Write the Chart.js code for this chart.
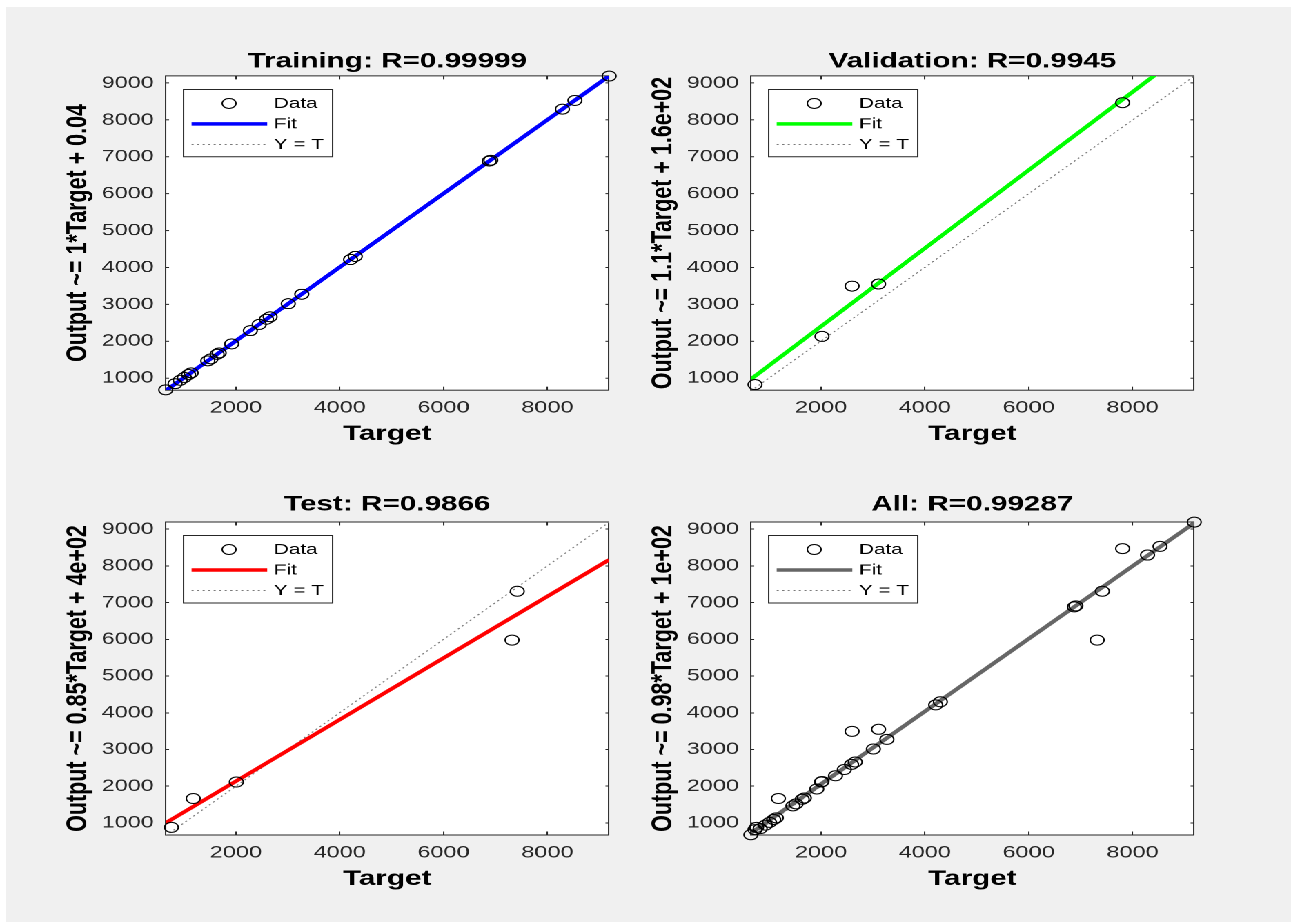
<!DOCTYPE html>
<html>
<head>
<meta charset="utf-8">
<title>Regression plots</title>
<script src="https://cdn.jsdelivr.net/npm/chart.js@4.4.1/dist/chart.umd.min.js"></script>
<style>
  html, body { margin: 0; padding: 0; background: #ffffff; }
  body { width: 1291px; height: 922px; overflow: hidden; position: relative; }
  /* figure background (grey like the MATLAB window) */
  #figure-bg { position: absolute; left: 6px; top: 7px; right: 0; bottom: 0; background: #f0f0f0; }
  /* the original picture is stretched sideways, so the whole stage is too */
  #stage { position: absolute; left: 0; top: 0; width: 935.5px; height: 922px;
           transform: scaleX(1.38); transform-origin: 0 0; }
  .panel { position: absolute; }
</style>
</head>
<body>
<div id="figure-bg"></div>
<div id="stage">
  <div class="panel" id="box-train"><canvas id="c-train"></canvas></div>
  <div class="panel" id="box-val"><canvas id="c-val"></canvas></div>
  <div class="panel" id="box-test"><canvas id="c-test"></canvas></div>
  <div class="panel" id="box-all"><canvas id="c-all"></canvas></div>
</div>
<script>
// ===== Data =====
const xTicks = [2000, 4000, 6000, 8000];
const yTicks = [1000, 2000, 3000, 4000, 5000, 6000, 7000, 8000, 9000];
const xLimits = [648, 9185];
const yLimits = [672, 9195];

// Training set
const trainTarget = [650, 830, 930, 1010, 1090, 1140, 1460, 1520, 1640, 1680, 1920, 2280,
                     2450, 2590, 2660, 3010, 3270, 4210, 4300, 6880, 6910, 8290, 8530, 9190];
const trainOutput = [680, 845, 940, 1015, 1095, 1140, 1465, 1520, 1645, 1680, 1925, 2285,
                     2455, 2595, 2660, 3015, 3275, 4215, 4300, 6885, 6910, 8295, 8530, 9192];
// Validation set
const valTarget = [730, 2020, 2600, 3110, 7810];
const valOutput = [820, 2130, 3495, 3550, 8470];
// Test set
const testTarget = [760, 1180, 2010, 7320, 7420];
const testOutput = [880, 1665, 2115, 5980, 7310];
// All = the three sets together
const allTarget = trainTarget.concat(valTarget, testTarget);
const allOutput = trainOutput.concat(valOutput, testOutput);

// Fit lines: ends read at the left and right axis limits
const fitEndsX = [648, 9185];
const trainFitY = [655, 9190];
const valFitY = [965, 10015];
const testFitY = [1000, 8165];
const allFitY = [720, 9165];
const identityY = [648, 9185];   // Y = T

const FONT = '"Liberation Sans", Arial, Helvetica, sans-serif';

const toPoints = (xs, ys) => xs.map((x, i) => ({ x: x, y: ys[i] }));

// ===== Plugins =====
// white plot area
const plotBackground = {
    id: 'plotBackground',
    beforeDraw(chart) {
        const { ctx, chartArea: a } = chart;
        ctx.save();
        ctx.fillStyle = '#ffffff';
        ctx.fillRect(a.left, a.top, a.right - a.left, a.bottom - a.top);
        ctx.restore();
    }
};

// MATLAB style legend box in the upper left of the axes
const boxLegend = {
    id: 'boxLegend',
    afterDatasetsDraw(chart) {
        const { ctx, chartArea: a } = chart;
        const ds = chart.data.datasets;
        const x = a.left + 13, y = a.top + 13.5, w = 108, h = 67.5;
        const rows = [y + 14, y + 34.5, y + 55];
        ctx.save();
        ctx.fillStyle = '#ffffff';
        ctx.fillRect(x, y, w, h);
        ctx.strokeStyle = '#262626';
        ctx.lineWidth = 1;
        ctx.strokeRect(x, y, w, h);

        // Data: open circle
        ctx.beginPath();
        ctx.arc(x + 33, rows[0], ds[0].pointRadius, 0, Math.PI * 2);
        ctx.strokeStyle = ds[0].pointBorderColor;
        ctx.lineWidth = ds[0].pointBorderWidth;
        ctx.stroke();

        // Fit and Y = T: line samples
        [1, 2].forEach(i => {
            ctx.beginPath();
            ctx.setLineDash(ds[i].borderDash || []);
            ctx.moveTo(x + 5.8, rows[i]);
            ctx.lineTo(x + 60.6, rows[i]);
            ctx.strokeStyle = ds[i].borderColor;
            ctx.lineWidth = ds[i].borderWidth;
            ctx.stroke();
        });
        ctx.setLineDash([]);

        ctx.fillStyle = '#000000';
        ctx.font = '15px ' + FONT;
        ctx.textBaseline = 'middle';
        ctx.textAlign = 'left';
        ds.forEach((d, i) => ctx.fillText(d.label, x + 65.4, rows[i] + 0.5));
        ctx.restore();
    }
};

// ===== One regression panel =====
const makePanel = (cfg) => {
    const r = cfg.rect;
    const box = document.getElementById(cfg.box);
    box.style.left = (r.x - 100) + 'px';
    box.style.top = (r.y - 56) + 'px';
    box.style.width = (r.w + 119) + 'px';
    box.style.height = (r.h + 126) + 'px';

    const titleMid = 56 - cfg.titleGap;
    const titlePadTop = titleMid - 12.9;
    const titlePadBottom = 56 - titlePadTop - 25.8;

    const setTicks = (list) => (scale) => { scale.ticks = list.map(v => ({ value: v })); };
    const plainNumber = (v) => String(v);   // 9000, not 9,000
    const tickFont = { family: FONT, size: 17 };
    const labelFont = { family: FONT, size: 21.5, weight: 'bold' };
    const border = { display: true, color: '#262626', width: 1 };

    return new Chart(document.getElementById(cfg.canvas), {
        type: 'scatter',
        data: {
            datasets: [
                {
                    label: 'Data',
                    data: toPoints(cfg.target, cfg.output),
                    pointStyle: 'circle',
                    pointRadius: 5,
                    pointBorderWidth: 1,
                    pointBorderColor: '#000000',
                    pointBackgroundColor: 'rgba(0,0,0,0)',
                    showLine: false,
                    clip: false,
                    order: 0
                },
                {
                    label: 'Fit',
                    data: toPoints(fitEndsX, cfg.fitY),
                    showLine: true,
                    borderColor: cfg.color,
                    borderWidth: 3.5,
                    pointRadius: 0,
                    clip: 0,
                    order: 1
                },
                {
                    label: 'Y = T',
                    data: toPoints(fitEndsX, identityY),
                    showLine: true,
                    borderColor: '#7a7a7a',
                    borderWidth: 1,
                    borderDash: [1.5, 2.5],
                    pointRadius: 0,
                    clip: 0,
                    order: 2
                }
            ]
        },
        options: {
            responsive: true,
            maintainAspectRatio: false,
            animation: false,
            devicePixelRatio: 2,
            events: [],
            layout: { padding: { left: 23.5, right: 19, top: 0, bottom: 13 } },
            plugins: {
                legend: { display: false },
                tooltip: { enabled: false },
                title: {
                    display: true,
                    fullSize: false,
                    text: cfg.title,
                    color: '#000000',
                    font: labelFont,
                    padding: { top: titlePadTop, bottom: titlePadBottom }
                }
            },
            scales: {
                x: {
                    type: 'linear',
                    position: 'bottom',
                    min: xLimits[0],
                    max: xLimits[1],
                    afterBuildTicks: setTicks(xTicks),
                    afterFit: (s) => { s.height = 57; },
                    grid: { drawOnChartArea: false, drawTicks: true, tickLength: -3.5, color: '#262626' },
                    border: border,
                    ticks: { font: tickFont, color: '#262626', padding: 11.3, maxRotation: 0, callback: plainNumber },
                    title: { display: true, text: 'Target', color: '#000000', font: labelFont, padding: 0 }
                },
                x2: {
                    type: 'linear',
                    position: 'top',
                    min: xLimits[0],
                    max: xLimits[1],
                    afterBuildTicks: setTicks(xTicks),
                    afterFit: (s) => { s.height = 0; },
                    grid: { drawOnChartArea: false, drawTicks: true, tickLength: -3.5, color: '#262626' },
                    border: border,
                    ticks: { display: false }
                },
                y: {
                    type: 'linear',
                    position: 'left',
                    min: yLimits[0],
                    max: yLimits[1],
                    afterBuildTicks: setTicks(yTicks),
                    afterFit: (s) => { s.width = 76.5; },
                    grid: { drawOnChartArea: false, drawTicks: true, tickLength: -2.5, color: '#262626' },
                    border: border,
                    ticks: { font: tickFont, color: '#262626', padding: 11, callback: plainNumber },
                    title: { display: true, text: cfg.ylabel, color: '#000000', font: labelFont, padding: 0 }
                },
                y2: {
                    type: 'linear',
                    position: 'right',
                    min: yLimits[0],
                    max: yLimits[1],
                    afterBuildTicks: setTicks(yTicks),
                    afterFit: (s) => { s.width = 0; },
                    grid: { drawOnChartArea: false, drawTicks: true, tickLength: -2.5, color: '#262626' },
                    border: border,
                    ticks: { display: false }
                }
            }
        },
        plugins: [plotBackground, boxLegend]
    });
};

// ===== Build the four panels =====
document.addEventListener('DOMContentLoaded', () => {
    makePanel({
        box: 'box-train', canvas: 'c-train',
        rect: { x: 120.1, y: 75.5, w: 321.2, h: 314.5 }, titleGap: 14.5,
        title: 'Training: R=0.99999', ylabel: 'Output ~= 1*Target + 0.04',
        color: '#0000ff', target: trainTarget, output: trainOutput, fitY: trainFitY
    });
    makePanel({
        box: 'box-val', canvas: 'c-val',
        rect: { x: 543.5, y: 75.5, w: 321.2, h: 314.5 }, titleGap: 14.5,
        title: 'Validation: R=0.9945', ylabel: 'Output ~= 1.1*Target + 1.6e+02',
        color: '#00ff00', target: valTarget, output: valOutput, fitY: valFitY
    });
    makePanel({
        box: 'box-test', canvas: 'c-test',
        rect: { x: 120.1, y: 522, w: 321.2, h: 313 }, titleGap: 17.5,
        title: 'Test: R=0.9866', ylabel: 'Output ~= 0.85*Target + 4e+02',
        color: '#ff0000', target: testTarget, output: testOutput, fitY: testFitY
    });
    makePanel({
        box: 'box-all', canvas: 'c-all',
        rect: { x: 543.5, y: 522, w: 321.2, h: 313 }, titleGap: 17.5,
        title: 'All: R=0.99287', ylabel: 'Output ~= 0.98*Target + 1e+02',
        color: '#666666', target: allTarget, output: allOutput, fitY: allFitY
    });
});
</script>
</body>
</html>
